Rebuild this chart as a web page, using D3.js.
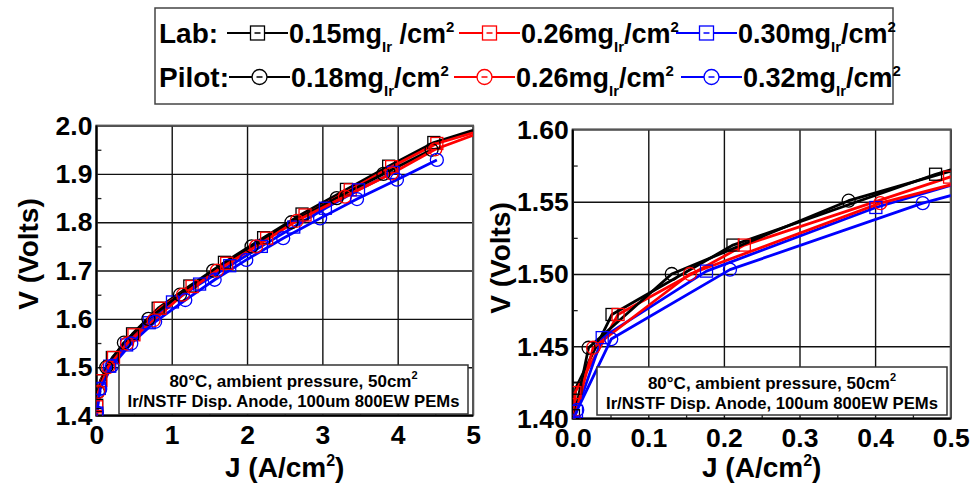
<!DOCTYPE html>
<html><head><meta charset="utf-8">
<script src="https://cdn.jsdelivr.net/npm/d3@7"></script>
<style>
html,body{margin:0;padding:0;background:#fff;}
svg{display:block;font-family:"Liberation Sans",Arial,sans-serif;font-weight:bold;}
</style></head>
<body>
<svg id="chart" width="971" height="483"></svg>
<script>
// ---------- data (J in A/cm2, V in Volts) ----------
const lab015_J = [0.001, 0.004, 0.052, 0.212, 0.48, 0.82, 1.24, 1.70, 2.22, 2.73, 3.32, 3.88, 4.48];
const lab015_V = [1.402, 1.421, 1.472, 1.520, 1.569, 1.622, 1.668, 1.717, 1.768, 1.817, 1.868, 1.916, 1.965];
const lab026_J = [0.002, 0.003, 0.060, 0.227, 0.4985, 0.845, 1.27, 1.73, 2.26, 2.77, 3.37, 3.92, 4.52];
const lab026_V = [1.398, 1.418, 1.472, 1.520, 1.567, 1.622, 1.667, 1.715, 1.767, 1.815, 1.867, 1.915, 1.963];
const lab030_J = [0.005, 0.039, 0.177, 0.401, 0.70, 1.01, 1.37, 1.77, 2.19, 2.62, 3.04, 3.48, 3.94];
const lab030_V = [1.405, 1.456, 1.502, 1.546, 1.592, 1.635, 1.672, 1.710, 1.750, 1.790, 1.829, 1.867, 1.903];
const pil018_J = [0.021, 0.131, 0.365, 0.69, 1.11, 1.55, 2.06, 2.59, 3.19, 3.81, 4.45];
const pil018_V = [1.449, 1.500, 1.5507, 1.600, 1.650, 1.700, 1.750, 1.800, 1.850, 1.900, 1.950];
const pil026_J = [0.027, 0.155, 0.407, 0.76, 1.15, 1.60, 2.12, 2.66, 3.30, 3.92, 4.50];
const pil026_V = [1.449, 1.500, 1.549, 1.597, 1.650, 1.700, 1.750, 1.803, 1.853, 1.901, 1.951];
const pil032_J = [0.006, 0.051, 0.208, 0.463, 0.78, 1.18, 1.57, 1.99, 2.48, 2.97, 3.46, 3.99, 4.52];
const pil032_V = [1.406, 1.455, 1.503, 1.549, 1.594, 1.639, 1.681, 1.722, 1.767, 1.808, 1.848, 1.888, 1.929];
// line-only end points (curves continue past the last marker)
const lineStart_J = [0.0, 0.0, 0.0, 0.0, 0.0, 0.0];
const lineStart_V = [1.395, 1.395, 1.398, 1.396, 1.396, 1.398];
const lineEnd_J = [5.0, 5.0, null, null, 5.0, null];
const lineEnd_V = [1.990, 1.985, null, null, 1.980, null];

const seriesNames = ["0.15mg", "0.26mg", "0.30mg", "0.18mg", "0.26mg", "0.32mg"];
const seriesGroup = ["Lab", "Lab", "Lab", "Pilot", "Pilot", "Pilot"];
const seriesColor = ["#000000", "#ff0000", "#0000ff", "#000000", "#ff0000", "#0000ff"];
const seriesShape = ["square", "square", "square", "circle", "circle", "circle"];

const leftXTicks = [0, 1, 2, 3, 4, 5];
const leftYTicks = [1.4, 1.5, 1.6, 1.7, 1.8, 1.9, 2.0];
const rightXTicks = [0.0, 0.1, 0.2, 0.3, 0.4, 0.5];
const rightYTicks = [1.40, 1.45, 1.50, 1.55, 1.60];
const noteLines = ["80°C, ambient pressure, 50cm", "Ir/NSTF Disp. Anode, 100um 800EW PEMs"];

const allJ = [lab015_J, lab026_J, lab030_J, pil018_J, pil026_J, pil032_J];
const allV = [lab015_V, lab026_V, lab030_V, pil018_V, pil026_V, pil032_V];
const series = allJ.map((J, i) => {
  const pts = J.map((j, k) => ({J: j, V: allV[i][k]}));
  const line = [{J: lineStart_J[i], V: lineStart_V[i]}, ...pts];
  if (lineEnd_J[i] !== null) line.push({J: lineEnd_J[i], V: lineEnd_V[i]});
  return {name: seriesNames[i], group: seriesGroup[i], color: seriesColor[i], shape: seriesShape[i], pts, line};
});

const svg = d3.select("#chart");

function panel(id, x, y, xTicks, yTicks, xFmt, yFmt, ylabelPos, xlabelY, note) {
  const g = svg.append("g");
  const [x0, x1] = x.range(), [y0, y1] = y.range();
  const w = x1 - x0, h = y0 - y1;
  const minor = (t) => t.slice(0, -1).map((v, i) => (v + t[i + 1]) / 2);

  // grid
  const gx = g.append("g").attr("transform", `translate(0,${y0})`)
    .call(d3.axisBottom(x).tickValues(xTicks).tickSize(-h).tickFormat(""));
  const gy = g.append("g").attr("transform", `translate(${x0},0)`)
    .call(d3.axisLeft(y).tickValues(yTicks).tickSize(-w).tickFormat(""));
  [gx, gy].forEach(a => { a.select(".domain").remove(); a.selectAll("line").attr("stroke", "#111").attr("stroke-width", 1.4); });
  // minor ticks
  const mx = g.append("g").attr("transform", `translate(0,${y0})`)
    .call(d3.axisBottom(x).tickValues(minor(xTicks)).tickSize(-5).tickFormat(""));
  const my = g.append("g").attr("transform", `translate(${x0},0)`)
    .call(d3.axisLeft(y).tickValues(minor(yTicks)).tickSize(-5).tickFormat(""));
  [mx, my].forEach(a => { a.select(".domain").remove(); a.selectAll("line").attr("stroke", "#222").attr("stroke-width", 1.3); });

  // frame
  g.append("rect").attr("x", x0).attr("y", y1).attr("width", w).attr("height", h)
    .attr("fill", "none").attr("stroke", "#555").attr("stroke-width", 2);
  g.append("path").attr("d", `M${x0},${y1}V${y0}H${x1}`).attr("fill", "none").attr("stroke", "#000").attr("stroke-width", 2);

  // clip
  svg.append("clipPath").attr("id", id).append("rect").attr("x", x0).attr("y", y1).attr("width", w).attr("height", h);
  const data = g.append("g").attr("clip-path", `url(#${id})`);
  const lineGen = d3.line().x(d => x(d.J)).y(d => y(d.V));
  series.forEach(s => {
    data.append("path").datum(s.line).attr("d", lineGen).attr("fill", "none")
      .attr("stroke", s.color).attr("stroke-width", 2.8).attr("stroke-linejoin", "round");
  });
  series.forEach(s => {
    const m = data.append("g");
    if (s.shape === "square") {
      m.selectAll("rect").data(s.pts).join("rect")
        .attr("x", d => x(d.J) - 6).attr("y", d => y(d.V) - 6).attr("width", 12).attr("height", 12)
        .attr("fill", "none").attr("stroke", s.color).attr("stroke-width", 1.3);
    } else {
      m.selectAll("circle").data(s.pts).join("circle")
        .attr("cx", d => x(d.J)).attr("cy", d => y(d.V)).attr("r", 6.5)
        .attr("fill", "none").attr("stroke", s.color).attr("stroke-width", 1.3);
    }
  });

  // tick labels
  const lx = g.append("g").attr("transform", `translate(0,${y0})`)
    .call(d3.axisBottom(x).tickValues(xTicks).tickSize(0).tickPadding(10).tickFormat(xFmt));
  const ly = g.append("g").attr("transform", `translate(${x0},0)`)
    .call(d3.axisLeft(y).tickValues(yTicks).tickSize(0).tickPadding(4).tickFormat(yFmt));
  [lx, ly].forEach(a => {
    a.select(".domain").remove();
    a.selectAll("text").attr("fill", "#000").style("font-size", "26.5px").style("font-weight", "bold")
      .style("font-family", '"Liberation Sans",Arial,sans-serif');
  });
  ly.selectAll("text").attr("dy", "0.33em");

  // note box
  const nb = g.append("g");
  nb.append("rect").attr("x", note[0]).attr("y", note[1]).attr("width", note[2]).attr("height", note[3])
    .attr("fill", "#fff").attr("stroke", "#333").attr("stroke-width", 1.5);
  const cx = note[0] + note[2] / 2;
  const t1 = nb.append("text").attr("x", cx).attr("y", note[1] + 21.5).attr("text-anchor", "middle").style("font-size", "17px");
  t1.append("tspan").text(noteLines[0]);
  t1.append("tspan").attr("dy", -8).style("font-size", "11px").text("2");
  nb.append("text").attr("x", cx).attr("y", note[1] + 42).attr("text-anchor", "middle").style("font-size", "17px")
    .attr("textLength", 332).attr("lengthAdjust", "spacingAndGlyphs").text(noteLines[1]);

  // axis titles
  g.append("text").attr("transform", `translate(${ylabelPos[0]},${ylabelPos[1]}) rotate(-90)`)
    .attr("text-anchor", "middle").style("font-size", "28px").text("V (Volts)");
  const xt = g.append("text").attr("x", (x0 + x1) / 2).attr("y", xlabelY).attr("text-anchor", "middle").style("font-size", "28px");
  xt.append("tspan").text("J (A/cm");
  xt.append("tspan").attr("dy", -11).style("font-size", "16px").text("2");
  xt.append("tspan").attr("dy", 11).text(")");
}

const xL = d3.scaleLinear().domain([0, 5]).range([96.4, 473]);
const yL = d3.scaleLinear().domain([1.4, 2.0]).range([415.5, 125.6]);
const xR = d3.scaleLinear().domain([0, 0.5]).range([572.7, 950.7]);
const yR = d3.scaleLinear().domain([1.4, 1.6]).range([418.6, 129.4]);

panel("clipL", xL, yL, leftXTicks, leftYTicks, d3.format("d"), d3.format(".1f"), [38, 254], 477, [119, 365, 349, 49]);
panel("clipR", xR, yR, rightXTicks, rightYTicks, d3.format(".1f"), d3.format(".2f"), [510, 258], 477, [597, 367, 350, 48]);

// ---------- legend ----------
const leg = svg.append("g");
leg.append("rect").attr("x", 155).attr("y", 8).attr("width", 738).attr("height", 96)
  .attr("fill", "#fff").attr("stroke", "#444").attr("stroke-width", 1.5);
const rowY = [43, 87];
const entryX = [[227, 459, 676], [229, 454, 681]];
leg.append("text").attr("x", 159).attr("y", rowY[0]).style("font-size", "28px").text("Lab:");
leg.append("text").attr("x", 159).attr("y", rowY[1]).style("font-size", "28px").text("Pilot:");
series.forEach((s, i) => {
  const row = i < 3 ? 0 : 1, col = i % 3;
  const lx0 = entryX[row][col], lx1 = lx0 + 61, cy = rowY[row] - 10, mx = (lx0 + lx1) / 2;
  leg.append("line").attr("x1", lx0).attr("x2", lx1).attr("y1", cy).attr("y2", cy)
    .attr("stroke", s.color).attr("stroke-width", 2);
  if (s.shape === "square") {
    leg.append("rect").attr("x", mx - 7).attr("y", cy - 7).attr("width", 14).attr("height", 14)
      .attr("fill", "#fff").attr("stroke", s.color).attr("stroke-width", 1.3);
  } else {
    leg.append("circle").attr("cx", mx).attr("cy", cy).attr("r", 7.5)
      .attr("fill", "#fff").attr("stroke", s.color).attr("stroke-width", 1.3);
  }
  leg.append("line").attr("x1", mx - 3).attr("x2", mx + 3).attr("y1", cy).attr("y2", cy)
    .attr("stroke", s.color).attr("stroke-width", 1.5);
  const t = leg.append("text").attr("x", lx1 + 1).attr("y", rowY[row]).style("font-size", "27px");
  t.append("tspan").text(s.name);
  t.append("tspan").attr("dy", 9).style("font-size", "15px").text("Ir");
  t.append("tspan").attr("dy", -9).text(i === 0 ? " /cm" : "/cm");
  t.append("tspan").attr("dy", -11).style("font-size", "15px").text("2");
});
</script>
</body></html>
